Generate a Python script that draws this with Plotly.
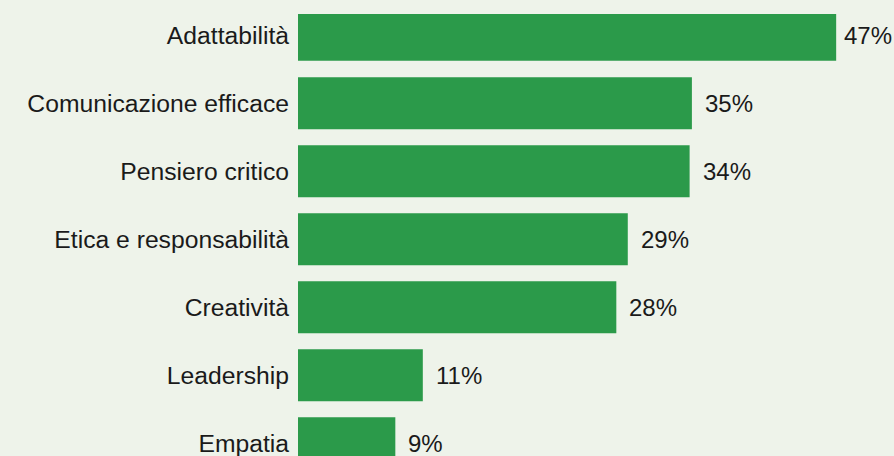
import plotly.graph_objects as go

categories = ["Adattabilità", "Comunicazione efficace", "Pensiero critico",
              "Etica e responsabilità", "Creatività", "Leadership", "Empatia"]
values = [47.0, 34.4, 34.2, 28.8, 27.8, 10.9, 8.5]
value_labels = ["47%", "35%", "34%", "29%", "28%", "11%", "9%"]

# style-only per-bar geometry (first bar is slightly thinner in the reference)
bar_widths = [0.686] + [0.765] * 6
bar_offsets = [-0.313] + [-0.3825] * 6
label_shifts = [6, 11, 11, 11, 11, 11, 11]

FONT = "Liberation Sans, Arial, Helvetica, sans-serif"

fig = go.Figure(go.Bar(
    x=values, y=categories, orientation="h",
    width=bar_widths, offset=bar_offsets,
    marker=dict(color="#2b9a4a", line=dict(width=0)),
    hoverinfo="skip",
))

for cat, v, lab, sh in zip(categories, values, value_labels, label_shifts):
    fig.add_annotation(x=v, y=cat, text=lab, showarrow=False, xanchor="left",
                       xshift=sh, font=dict(size=24, color="#1a1a1a", family=FONT))

fig.update_layout(
    width=894, height=456,
    margin=dict(l=298, r=0, t=0, b=0),
    paper_bgcolor="#eef3ea", plot_bgcolor="#eef3ea",
    showlegend=False,
    font=dict(family=FONT, size=24, color="#1a1a1a"),
    xaxis=dict(range=[0, 52.05], visible=False, showgrid=False, zeroline=False),
    yaxis=dict(range=[6.187, -0.519], showgrid=False, zeroline=False, showline=False,
               ticks="", ticklabelstandoff=8, tickfont=dict(size=24.7, color="#1a1a1a")),
)

fig.write_html("out.html")
